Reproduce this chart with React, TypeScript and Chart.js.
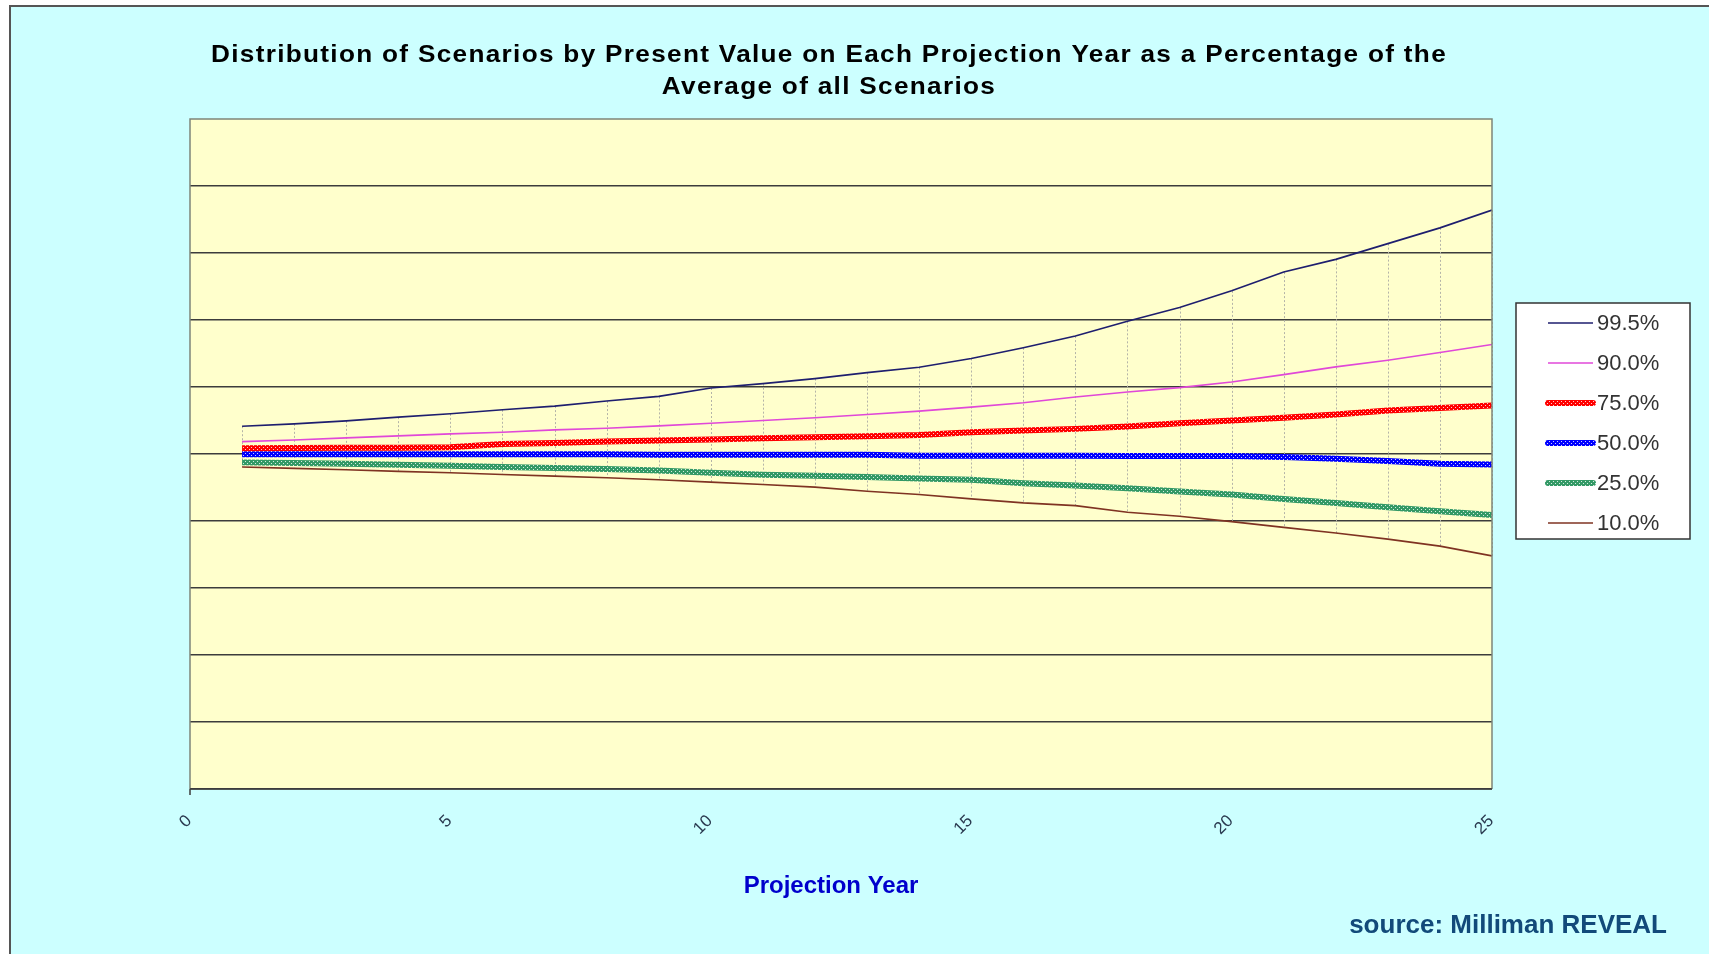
import { useEffect, useRef } from 'react';
import { Chart, registerables } from 'chart.js';

Chart.register(...registerables);

// Projection years (x) and percentile paths (% of the average of all scenarios)
const years = [1, 2, 3, 4, 5, 6, 7, 8, 9, 10, 11, 12, 13, 14, 15, 16, 17, 18, 19, 20, 21, 22, 23, 24, 25];

const seriesLabels = ['99.5%', '90.0%', '75.0%', '50.0%', '25.0%', '10.0%'];

const pct995 = [108.3, 109.0, 109.9, 111.0, 112.0, 113.2, 114.3, 115.8, 117.2, 119.7, 121.0, 122.5, 124.3, 125.9, 128.5, 131.7, 135.2, 139.6, 143.7, 148.7, 154.3, 158.1, 162.8, 167.5, 172.8];
const pct900 = [103.7, 104.2, 104.8, 105.4, 106.0, 106.5, 107.2, 107.7, 108.4, 109.2, 110.0, 110.8, 111.8, 112.8, 114.0, 115.3, 117.0, 118.5, 119.8, 121.5, 123.7, 126.0, 128.0, 130.3, 132.7];
const pct750 = [101.7, 101.8, 101.9, 101.9, 102.0, 103.0, 103.3, 103.7, 104.0, 104.3, 104.7, 105.0, 105.3, 105.7, 106.5, 107.0, 107.5, 108.2, 109.2, 110.0, 110.8, 111.8, 113.0, 113.7, 114.5];
const pct500 = [99.9, 99.9, 99.9, 99.9, 99.9, 99.9, 99.9, 99.9, 99.8, 99.8, 99.8, 99.8, 99.8, 99.5, 99.5, 99.5, 99.5, 99.4, 99.4, 99.4, 99.1, 98.6, 97.9, 97.1, 96.9];
const pct250 = [97.5, 97.3, 97.1, 96.8, 96.5, 96.1, 95.8, 95.5, 95.1, 94.4, 93.8, 93.5, 93.1, 92.7, 92.3, 91.3, 90.6, 89.8, 88.8, 87.9, 86.6, 85.4, 84.1, 82.9, 81.8];
const pct100 = [96.1, 95.7, 95.3, 94.8, 94.4, 93.9, 93.4, 92.9, 92.3, 91.6, 90.9, 90.1, 88.9, 87.9, 86.6, 85.4, 84.6, 82.6, 81.4, 79.8, 78.1, 76.4, 74.6, 72.5, 69.6];

const yMin = 0;
const yMax = 200;
const yStep = 20;
const xMax = 25;
const xStep = 5;

const titleLines = [
  'Distribution of Scenarios by Present Value on Each Projection Year as a Percentage of the',
  'Average of all Scenarios',
];
const xAxisTitle = 'Projection Year';
const sourceNote = 'source: Milliman REVEAL';

const W = 1709;
const H = 954;
const FONT = '"Liberation Sans", Arial, Helvetica, sans-serif';
const TITLE_WIDTH = 1236;

// Thick band stroke with a fine white dotted texture
function bandPattern(color: string): CanvasPattern | string {
  const c = document.createElement('canvas');
  c.width = 4;
  c.height = 4;
  const g = c.getContext('2d');
  if (!g) return color;
  g.fillStyle = color;
  g.fillRect(0, 0, 4, 4);
  g.fillStyle = 'rgba(255,255,255,0.8)';
  g.fillRect(1, 1, 1, 1);
  g.fillRect(3, 3, 1, 1);
  return g.createPattern(c, 'repeat') ?? color;
}

const toPoints = (vals: number[]) => years.map((x, i) => ({ x, y: vals[i] }));

const backdropPlugin = {
  id: 'backdrop',
  beforeDraw(chart: any) {
    const { ctx, chartArea } = chart;
    ctx.save();
    ctx.fillStyle = '#ffffff';
    ctx.fillRect(0, 0, W, H);
    ctx.fillStyle = '#CCFFFF';
    ctx.fillRect(10, 6, W - 10, H - 6);
    ctx.strokeStyle = '#555555';
    ctx.lineWidth = 2;
    ctx.beginPath();
    ctx.moveTo(10, H);
    ctx.lineTo(10, 6);
    ctx.lineTo(W, 6);
    ctx.stroke();
    ctx.fillStyle = '#FFFFCC';
    ctx.fillRect(chartArea.left, chartArea.top, chartArea.right - chartArea.left, chartArea.bottom - chartArea.top);
    ctx.restore();
  },
};

// Dotted high-low lines joining the highest and lowest path at each year
const hiLoPlugin = {
  id: 'hiLo',
  beforeDatasetsDraw(chart: any) {
    const { ctx, scales } = chart;
    const sets = chart.data.datasets;
    ctx.save();
    ctx.strokeStyle = '#b4b4a8';
    ctx.lineWidth = 1;
    ctx.setLineDash([2, 2]);
    years.forEach((yr, i) => {
      const vals = sets.map((d: any) => d.data[i].y);
      const px = Math.round(scales.x.getPixelForValue(yr)) + 0.5;
      ctx.beginPath();
      ctx.moveTo(px, scales.y.getPixelForValue(Math.max(...vals)));
      ctx.lineTo(px, scales.y.getPixelForValue(Math.min(...vals)));
      ctx.stroke();
    });
    ctx.restore();
  },
  afterDatasetsDraw(chart: any) {
    const { ctx, chartArea } = chart;
    const { left, top, right, bottom } = chartArea;
    ctx.save();
    ctx.strokeStyle = '#7d857a';
    ctx.lineWidth = 1.5;
    ctx.beginPath();
    ctx.moveTo(left, bottom);
    ctx.lineTo(left, top);
    ctx.lineTo(right, top);
    ctx.lineTo(right, bottom);
    ctx.stroke();
    ctx.strokeStyle = '#3c3c3c';
    ctx.beginPath();
    ctx.moveTo(left, bottom);
    ctx.lineTo(right, bottom);
    ctx.moveTo(left, bottom);
    ctx.lineTo(left, bottom + 6);
    ctx.stroke();
    ctx.restore();
  },
};

const textPlugin = {
  id: 'texts',
  afterDraw(chart: any) {
    const { ctx } = chart;
    ctx.save();
    // Title, widened to its frame width
    ctx.fillStyle = '#000000';
    ctx.font = `bold 24px ${FONT}`;
    ctx.textAlign = 'center';
    ctx.textBaseline = 'alphabetic';
    (ctx as any).letterSpacing = '1.2px';
    const sx = TITLE_WIDTH / ctx.measureText(titleLines[0]).width;
    ctx.save();
    ctx.translate(829, 0);
    ctx.scale(sx, 1);
    ctx.fillText(titleLines[0], 0, 62);
    ctx.fillText(titleLines[1], 0, 94);
    ctx.restore();
    (ctx as any).letterSpacing = '0px';
    // Axis title
    ctx.fillStyle = '#0000CC';
    ctx.font = `bold 24px ${FONT}`;
    ctx.textAlign = 'center';
    ctx.fillText(xAxisTitle, 831, 893);
    // Source note
    ctx.fillStyle = '#124A7A';
    ctx.font = `bold 26px ${FONT}`;
    ctx.textAlign = 'right';
    ctx.fillText(sourceNote, 1667, 933);

    // Legend box
    const bx = 1516;
    const by = 303;
    const bw = 174;
    const bh = 236;
    ctx.fillStyle = '#ffffff';
    ctx.fillRect(bx, by, bw, bh);
    ctx.strokeStyle = '#333333';
    ctx.lineWidth = 1.5;
    ctx.strokeRect(bx, by, bw, bh);
    ctx.font = `22px ${FONT}`;
    ctx.textAlign = 'left';
    ctx.textBaseline = 'middle';
    chart.data.datasets.forEach((ds: any, i: number) => {
      const y = 323 + i * 40;
      ctx.strokeStyle = ds.borderColor;
      ctx.lineWidth = ds.borderWidth;
      ctx.lineCap = ds.borderWidth > 2 ? 'round' : 'butt';
      ctx.beginPath();
      ctx.moveTo(1548, y);
      ctx.lineTo(1593, y);
      ctx.stroke();
      ctx.fillStyle = '#333333';
      ctx.fillText(ds.label, 1597, y + 1);
    });
    ctx.restore();
  },
};

const X_AXIS_BAND = 70;

export default function App() {
  const canvasRef = useRef<HTMLCanvasElement | null>(null);

  useEffect(() => {
    const canvas = canvasRef.current;
    if (!canvas) return;

    const thin = (label: string, vals: number[], color: string) => ({
      label,
      data: toPoints(vals),
      borderColor: color,
      borderWidth: 1.6,
      pointRadius: 0,
      fill: false,
      tension: 0,
    });
    const band = (label: string, vals: number[], color: string) => ({
      label,
      data: toPoints(vals),
      borderColor: bandPattern(color),
      borderWidth: 6,
      pointRadius: 0,
      fill: false,
      tension: 0,
    });

    const chart = new Chart(canvas, {
      type: 'line',
      data: {
        datasets: [
          thin(seriesLabels[0], pct995, '#1e1e6e'),
          thin(seriesLabels[1], pct900, '#E048D8'),
          band(seriesLabels[2], pct750, '#FF0000'),
          band(seriesLabels[3], pct500, '#0000FF'),
          band(seriesLabels[4], pct250, '#339966'),
          thin(seriesLabels[5], pct100, '#7F3322'),
        ],
      },
      options: {
        responsive: false,
        animation: false,
        layout: { padding: { left: 190, top: 119, right: W - 1492, bottom: H - 789 - X_AXIS_BAND } },
        plugins: {
          legend: { display: false },
          title: { display: false },
          tooltip: { enabled: false },
        },
        scales: {
          x: {
            type: 'linear',
            min: 0,
            max: xMax,
            grid: { display: false, drawTicks: false },
            border: { display: false },
            ticks: {
              stepSize: xStep,
              autoSkip: false,
              minRotation: 45,
              maxRotation: 45,
              labelOffset: -1,
              padding: 22,
              color: '#2A3A50',
              font: { family: 'Liberation Sans', size: 17 },
            },
            afterFit: (s: any) => {
              s.height = X_AXIS_BAND;
            },
          },
          y: {
            type: 'linear',
            min: yMin,
            max: yMax,
            grid: {
              drawTicks: false,
              lineWidth: 1.5,
              color: (c: any) => (c.tick && c.tick.value === yMax ? 'rgba(0,0,0,0)' : '#3c3c3c'),
            },
            border: { display: false },
            ticks: { display: false, stepSize: yStep },
            afterFit: (s: any) => {
              s.width = 0;
            },
          },
        },
      } as any,
      plugins: [backdropPlugin, hiLoPlugin, textPlugin],
    });

    return () => chart.destroy();
  }, []);

  return (
    <div style={{ position: 'fixed', left: 0, top: 0, width: W, height: H }}>
      <canvas ref={canvasRef} width={W} height={H} style={{ display: 'block' }} />
    </div>
  );
}
